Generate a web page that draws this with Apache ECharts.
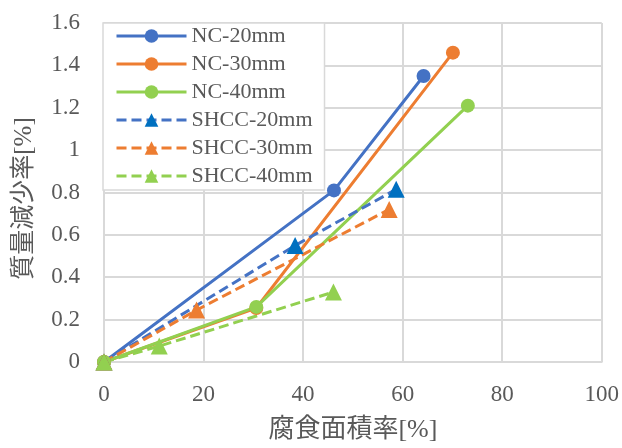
<!DOCTYPE html>
<html>
<head>
<meta charset="utf-8">
<script src="https://cdn.jsdelivr.net/npm/echarts@6/dist/echarts.min.js"></script>
<style>
  html, body { margin: 0; padding: 0; background: #fff; }
  #chart { width: 622px; height: 448px; }
</style>
</head>
<body>
<div id="chart"></div>
<script>
// Corrosion area ratio [%] vs. mass loss ratio [%]
const seriesNames = ['NC-20mm', 'NC-30mm', 'NC-40mm', 'SHCC-20mm', 'SHCC-30mm', 'SHCC-40mm'];

const nc20x = [0, 46.2, 64.2];
const nc20y = [0, 0.81, 1.35];
const nc30x = [0, 30.6, 70.1];
const nc30y = [0, 0.255, 1.46];
const nc40x = [0, 30.6, 73.1];
const nc40y = [0, 0.26, 1.21];
const shcc20x = [0, 38.4, 58.7];
const shcc20y = [0, 0.55, 0.815];
const shcc30x = [0, 18.6, 57.3];
const shcc30y = [0, 0.245, 0.72];
const shcc40x = [0, 11.1, 46.1];
const shcc40y = [0, 0.075, 0.33];

const xTicks = [0, 20, 40, 60, 80, 100];
const yTicks = [0, 0.2, 0.4, 0.6, 0.8, 1, 1.2, 1.4, 1.6];

const BLUE = '#4472C4', BLUE_DARK = '#0070C0', ORANGE = '#ED7D31', GREEN = '#92D050';
const TEXT = '#595959', GRID = '#D9D9D9';
const SERIF = '"Liberation Serif", "Noto Sans CJK JP", serif';

function pairs(xs, ys) { return xs.map((x, i) => [x, ys[i]]); }

function ncSeries(name, xs, ys, color) {
  return {
    name, type: 'line', data: pairs(xs, ys),
    symbol: 'circle', symbolSize: 14,
    lineStyle: { color, width: 3 },
    itemStyle: { color },
    emphasis: { disabled: true }
  };
}
function shccSeries(name, xs, ys, lineColor, markColor) {
  return {
    name, type: 'line', data: pairs(xs, ys),
    symbol: 'triangle', symbolSize: 17,
    lineStyle: { color: lineColor, width: 3, type: [10, 5] },
    itemStyle: { color: markColor },
    emphasis: { disabled: true }
  };
}

const chart = echarts.init(document.getElementById('chart'), null, { renderer: 'canvas' });
chart.setOption({
  animation: false,
  backgroundColor: '#fff',
  grid: { left: 104, right: 19, top: 23, bottom: 84, containLabel: false },
  xAxis: {
    type: 'value', min: xTicks[0], max: xTicks[xTicks.length - 1], interval: 20,
    name: '腐食面積率[%]', nameLocation: 'middle', nameGap: 55,
    nameTextStyle: { color: TEXT, fontSize: 26, fontFamily: SERIF },
    axisLine: { show: true, lineStyle: { color: GRID, width: 2 } },
    axisTick: { show: false },
    axisLabel: { color: TEXT, fontSize: 23, fontFamily: SERIF, margin: 21 },
    splitLine: { show: true, lineStyle: { color: GRID, width: 2 } }
  },
  yAxis: {
    type: 'value', min: yTicks[0], max: yTicks[yTicks.length - 1], interval: 0.2,
    name: '質量減少率[%]', nameLocation: 'middle', nameGap: 67, nameRotate: 90,
    nameTextStyle: { color: TEXT, fontSize: 25, fontFamily: SERIF, padding: [0, 12, 0, 0] },
    axisLine: { show: true, lineStyle: { color: GRID, width: 2 } },
    axisTick: { show: false },
    axisLabel: {
      color: TEXT, fontSize: 23, fontFamily: SERIF, margin: 24,
      formatter: v => String(Math.round(v * 10) / 10)
    },
    splitLine: { show: true, lineStyle: { color: GRID, width: 2 } }
  },
  legend: {
    orient: 'vertical', left: 103, top: 23,
    data: seriesNames,
    backgroundColor: '#fff', borderColor: GRID, borderWidth: 1.5,
    padding: [2, 12, 3, 12],
    itemWidth: 70, itemHeight: 17, itemGap: 6,
    lineStyle: { width: 3 },
    textStyle: { color: TEXT, fontSize: 22, fontFamily: SERIF, lineHeight: 20 },
    selectedMode: false
  },
  series: [
    ncSeries(seriesNames[0], nc20x, nc20y, BLUE),
    ncSeries(seriesNames[1], nc30x, nc30y, ORANGE),
    ncSeries(seriesNames[2], nc40x, nc40y, GREEN),
    shccSeries(seriesNames[3], shcc20x, shcc20y, BLUE, BLUE_DARK),
    shccSeries(seriesNames[4], shcc30x, shcc30y, ORANGE, ORANGE),
    shccSeries(seriesNames[5], shcc40x, shcc40y, GREEN, GREEN)
  ]
});
</script>
</body>
</html>
